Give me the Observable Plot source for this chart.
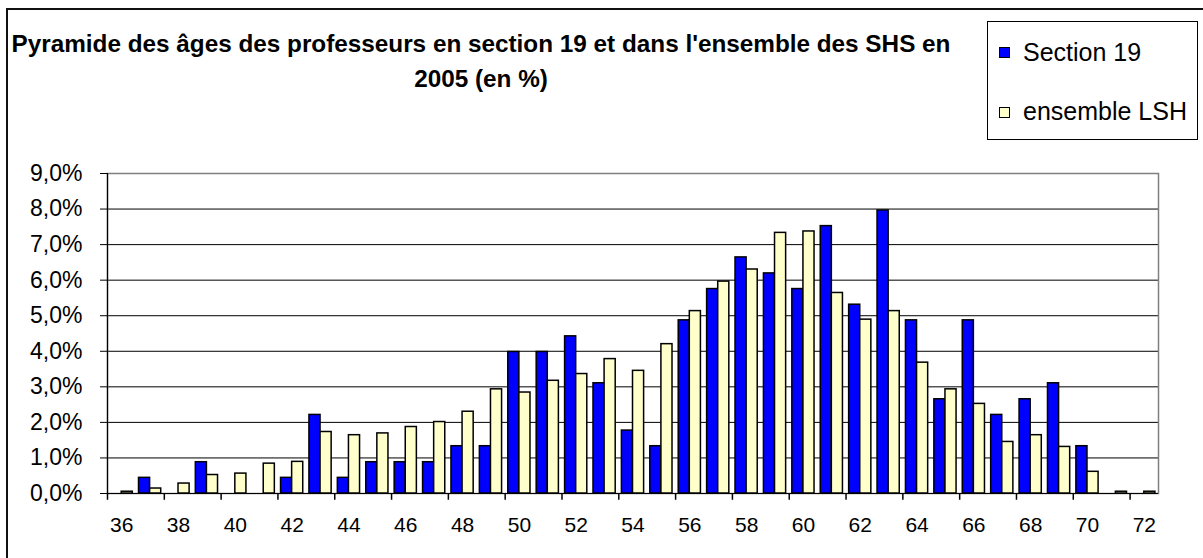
<!DOCTYPE html>
<html>
<head>
<meta charset="utf-8">
<script src="https://cdn.jsdelivr.net/npm/d3@7"></script>
<script src="https://cdn.jsdelivr.net/npm/@observablehq/plot@0.6"></script>
<style>
  html, body { margin: 0; padding: 0; background: #fff; }
  #wrap { position: relative; width: 1203px; height: 558px; overflow: hidden; background: #fff; font-family: "Liberation Sans", Arial, sans-serif; }
  #border { position: absolute; left: 6px; top: 8px; width: 1400px; height: 800px; border: 2px solid #111; box-sizing: border-box; }
  #chart { position: absolute; left: 0; top: 0; }
  #title { position: absolute; left: 0; top: 26px; width: 962px; text-align: center; font-weight: bold; font-size: 24.3px; line-height: 35px; color: #000; white-space: nowrap; }
  #legend { position: absolute; left: 987px; top: 21px; width: 211px; height: 119px; border: 1px solid #000; box-sizing: border-box; background: #fff; }
  .sw { position: absolute; width: 11px; height: 11px; border: 1px solid #000; box-sizing: border-box; }
  .lt { position: absolute; font-size: 25px; line-height: 25px; color: #000; white-space: nowrap; }
</style>
</head>
<body>
<div id="wrap">
  <div id="border"></div>
  <div id="chart"></div>
  <div id="title">Pyramide des âges des professeurs en section 19 et dans l'ensemble des SHS en<br>2005 (en %)</div>
  <div id="legend"></div>
</div>
<script>
// Categories: age
const ages = [36, 37, 38, 39, 40, 41, 42, 43, 44, 45, 46, 47, 48, 49, 50, 51, 52, 53, 54, 55, 56, 57, 58, 59, 60, 61, 62, 63, 64, 65, 66, 67, 68, 69, 70, 71, 72];
// Series: Section 19 (%)
const section19 = [0, 0.44, 0, 0.88, 0, 0, 0.44, 2.21, 0.44, 0.88, 0.88, 0.88, 1.33, 1.33, 3.98, 3.98, 4.42, 3.10, 1.77, 1.33, 4.87, 5.75, 6.64, 6.19, 5.75, 7.52, 5.31, 7.96, 4.87, 2.65, 4.87, 2.21, 2.65, 3.10, 1.33, 0, 0];
// Series: ensemble LSH (%)
const ensembleLSH = [0.05, 0.14, 0.28, 0.52, 0.56, 0.84, 0.89, 1.73, 1.64, 1.69, 1.87, 2.01, 2.30, 2.93, 2.84, 3.17, 3.36, 3.78, 3.45, 4.20, 5.13, 5.96, 6.30, 7.33, 7.37, 5.64, 4.89, 5.13, 3.68, 2.93, 2.52, 1.45, 1.64, 1.31, 0.61, 0.05, 0.05];
// Tick labels
const xTickLabels = [36, 38, 40, 42, 44, 46, 48, 50, 52, 54, 56, 58, 60, 62, 64, 66, 68, 70, 72];
const yTicks = [0, 1, 2, 3, 4, 5, 6, 7, 8, 9];
const seriesNames = ["Section 19", "ensemble LSH"];
const seriesColors = ["#0000ff", "#ffffcc"];

const rows = ages.map((a, i) => ({age: a, s19: section19[i], lsh: ensembleLSH[i]}));

const W = 1203, H = 558, mL = 107, mR = 45, mT = 173, mB = 65;
const bw = (W - mL - mR) / ages.length;
const gap = 3.1;

const fmt = d => d.toFixed(1).replace(".", ",") + "%";

const chart = Plot.plot({
  width: W, height: H,
  marginLeft: mL, marginRight: mR, marginTop: mT, marginBottom: mB,
  style: {fontFamily: "'Liberation Sans', Arial, sans-serif", background: "transparent", color: "#000", overflow: "visible"},
  x: {type: "band", domain: ages, padding: 0, round: false, label: null},
  y: {domain: [0, 9], label: null},
  marks: [
    Plot.gridY(yTicks.filter(t => t > 0 && t < 9), {stroke: "#000", strokeOpacity: 1}),
    Plot.frame({stroke: "#808080", strokeWidth: 1.5}),
    Plot.barY(rows, {x: "age", y: "s19", fill: seriesColors[0], stroke: "#000", strokeWidth: 1.5, insetLeft: gap, insetRight: bw / 2}),
    Plot.barY(rows, {x: "age", y: "lsh", fill: seriesColors[1], stroke: "#000", strokeWidth: 1.5, insetLeft: bw / 2, insetRight: gap}),
    Plot.ruleY([0], {stroke: "#000", strokeWidth: 1.2}),
    Plot.frame({anchor: "left", stroke: "#000", strokeWidth: 1.2}),
    Plot.axisY(yTicks, {tickSize: 7, tickPadding: 18, fontSize: 23, tickFormat: fmt, stroke: "#000", label: null}),
    Plot.axisX(xTickLabels, {tickSize: 0, tickPadding: 24, fontSize: 21, label: null}),
    // tick marks on category boundaries (left edge of each labelled age)
    Plot.ruleX(xTickLabels, {x: d => d, y1: 0, y2: -0.19, dx: -bw / 2, stroke: "#000", strokeWidth: 1.5})
  ]
});
document.getElementById("chart").appendChild(chart);

// Legend
const legend = document.getElementById("legend");
const items = [{sy: 25, ty: 18}, {sy: 85, ty: 77}];
seriesNames.forEach((name, i) => {
  const sw = document.createElement("div");
  sw.className = "sw";
  sw.style.left = "11px";
  sw.style.top = items[i].sy + "px";
  sw.style.background = seriesColors[i];
  legend.appendChild(sw);
  const t = document.createElement("div");
  t.className = "lt";
  t.style.left = "35px";
  t.style.top = items[i].ty + "px";
  t.textContent = name;
  legend.appendChild(t);
});
</script>
</body>
</html>
